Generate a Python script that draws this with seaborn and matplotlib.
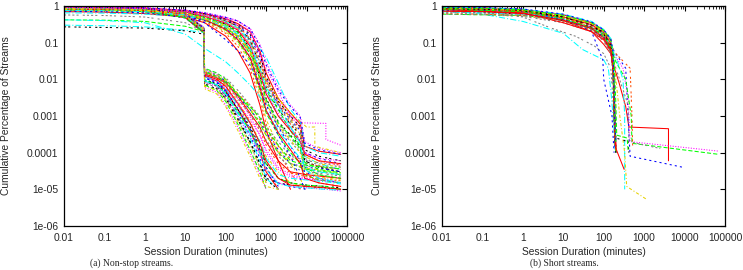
import numpy as np
import pandas as pd
import matplotlib
matplotlib.use("Agg")
import matplotlib.pyplot as plt
import seaborn as sns
from matplotlib.ticker import FixedLocator, FixedFormatter, LogLocator, NullFormatter

nan = np.nan

# ---- (a) non-stop streams: curves that fall off smoothly after ~300 min
upper_x = [0.01, 0.1, 1, 10, 30, 100, 200, 400, 700, 1000, 2000, 4000, 7000, 9000, 20000, 70000]
upper_curves = [
    [0.95, 0.93, 0.88, 0.75, 0.62, 0.45, 0.33, 0.2, 0.06, 0.015, 3e-3, 1.2e-3, 6e-4, 1.5e-4, 1.1e-4, 9e-5],
    [0.92, 0.9, 0.85, 0.72, 0.6, 0.42, 0.3, 0.15, 0.04, 0.01, 2e-3, 8e-4, 4e-4, 1e-4, 7e-5, 5e-5],
    [0.9, 0.88, 0.83, 0.7, 0.55, 0.38, 0.25, 0.1, 0.02, 5e-3, 1e-3, 5e-4, 2e-4, 8e-5, 5e-5, 3.5e-5],
    [0.88, 0.86, 0.8, 0.66, 0.5, 0.32, 0.2, 0.07, 0.012, 3e-3, 7e-4, 3e-4, 1.5e-4, 6e-5, 4e-5, 3e-5],
    [0.85, 0.84, 0.78, 0.62, 0.45, 0.26, 0.14, 0.05, 8e-3, 2e-3, 5e-4, 2e-4, 1e-4, 4e-5, 2.5e-5, 2e-5],
    [0.82, 0.8, 0.74, 0.6, 0.42, 0.22, 0.11, 0.035, 5e-3, 1.2e-3, 3e-4, 1e-4, 5e-5, 2.5e-5, 1.8e-5, 1.5e-5],
    [0.9, 0.88, 0.84, 0.74, 0.64, 0.48, 0.38, 0.25, 0.09, 0.03, 6e-3, 2e-3, 1e-3, 2e-4, 1.3e-4, 1e-4],
    [0.8, 0.78, 0.72, 0.58, 0.4, 0.2, 0.1, 0.03, 4e-3, 8e-4, 1.5e-4, 5e-5, 2e-5, 1e-5, nan, nan],
    [0.75, 0.74, 0.68, 0.55, 0.38, 0.18, 0.08, 0.02, 3e-3, 6e-4, 1e-4, 3e-5, 1e-5, nan, nan, nan],
    [0.7, 0.68, 0.62, 0.5, 0.35, 0.15, 0.06, 0.015, 2e-3, 4e-4, 6e-5, 1e-5, nan, nan, nan, nan],
    [0.85, 0.82, 0.75, 0.55, 0.35, 0.12, 0.06, 0.025, 6e-3, 2e-3, 5e-4, 1.5e-4, 6e-5, 3e-5, 2e-5, 1.5e-5],
    [0.65, 0.64, 0.6, 0.52, 0.45, 0.35, 0.25, 0.12, 0.07, 0.04, 8e-3, 1.5e-3, 7e-4, 1.5e-4, 1e-4, 8e-5],
    [0.93, 0.91, 0.86, 0.73, 0.6, 0.4, 0.28, 0.12, 0.025, 6e-3, 1.5e-3, 6e-4, 3e-4, 6e-5, 4e-5, 3e-5],
    [0.87, 0.85, 0.79, 0.64, 0.48, 0.3, 0.18, 0.06, 0.01, 2.5e-3, 6e-4, 2.5e-4, 1.2e-4, 5e-5, 3e-5, 2.5e-5],
    [0.78, 0.76, 0.7, 0.57, 0.42, 0.25, 0.15, 0.05, 0.015, 5e-3, 1.5e-3, 4e-4, 1.5e-4, 4e-5, 2.5e-5, 2e-5],
    [0.95, 0.94, 0.9, 0.78, 0.66, 0.5, 0.4, 0.22, 0.05, 0.01, 2.5e-3, 1e-3, 5e-4, 1e-4, 6e-5, 4.5e-5],
    [0.9, 0.89, 0.84, 0.7, 0.56, 0.36, 0.24, 0.09, 0.03, 0.01, 3e-3, 8e-4, 3e-4, 8e-5, 5e-5, 4e-5],
    [0.83, 0.81, 0.76, 0.63, 0.47, 0.28, 0.16, 0.06, 0.02, 7e-3, 2e-3, 6e-4, 2e-4, 3e-5, 1.5e-5, 1.2e-5],
    [0.88, 0.87, 0.82, 0.68, 0.52, 0.34, 0.22, 0.08, 0.015, 4e-3, 1e-3, 4e-4, 2e-4, 9e-5, 6e-5, 5e-5],
    [0.72, 0.7, 0.65, 0.53, 0.4, 0.24, 0.13, 0.04, 7e-3, 1.5e-3, 3e-4, 8e-5, 2e-5, 1e-5, nan, nan],
    [0.42, 0.4, 0.35, 0.17, 0.07, 0.03, 0.015, 7e-3, 3.4e-3, 1.5e-3, 4e-4, 1.5e-4, 7e-5, 4e-5, 3e-5, 2.5e-5],
    [0.94, 0.92, 0.87, 0.74, 0.61, 0.44, 0.32, 0.17, 0.05, 0.012, 2.5e-3, 1e-3, 5e-4, 1.2e-4, 8e-5, 6e-5],
    [0.91, 0.9, 0.85, 0.71, 0.57, 0.39, 0.27, 0.11, 0.03, 8e-3, 2e-3, 7e-4, 3.5e-4, 7e-5, 4.5e-5, 3.5e-5],
    [0.86, 0.85, 0.8, 0.65, 0.49, 0.31, 0.19, 0.065, 0.011, 2.8e-3, 6.5e-4, 2.8e-4, 1.3e-4, 5.5e-5, 3.5e-5, 2.8e-5],
    [0.89, 0.88, 0.83, 0.69, 0.53, 0.35, 0.23, 0.09, 0.018, 4.5e-3, 1.2e-3, 4.5e-4, 2.2e-4, 1e-4, 7e-5, 6e-5],
    [0.84, 0.83, 0.77, 0.63, 0.46, 0.27, 0.15, 0.055, 9e-3, 2.2e-3, 5.5e-4, 2.2e-4, 1e-4, 3.5e-5, 2.2e-5, 1.8e-5],
    [0.92, 0.91, 0.86, 0.72, 0.58, 0.41, 0.29, 0.13, 0.035, 9e-3, 2.2e-3, 9e-4, 4.5e-4, 9e-5, 6e-5, 4.5e-5],
    [0.8, 0.79, 0.73, 0.6, 0.43, 0.23, 0.12, 0.04, 6e-3, 1.4e-3, 3.5e-4, 1.2e-4, 5e-5, 2e-5, 1.5e-5, 1.2e-5],
    [0.95, 0.94, 0.89, 0.77, 0.65, 0.49, 0.39, 0.24, 0.08, 0.025, 5e-3, 1.8e-3, 9e-4, 1.8e-4, 1.2e-4, 9e-5],
    [0.76, 0.75, 0.7, 0.58, 0.44, 0.28, 0.17, 0.07, 0.02, 6e-3, 1.8e-3, 5e-4, 1.8e-4, 3.5e-5, 2e-5, 1.5e-5],
]

# ---- (a) curves with the sharp drop at 30 min
lower_x = [0.01, 0.1, 1, 10, 29, 30, 60, 100, 200, 400, 700, 1000, 2000, 4000, 10000, 30000, 70000]
lower_curves = [
    [0.92, 0.9, 0.85, 0.6, 0.25, 0.02, 0.015, 0.01, 4e-3, 1.5e-3, 6e-4, 3e-4, 1e-4, 5e-5, 3.5e-5, 3e-5, 2.5e-5],
    [0.88, 0.86, 0.8, 0.55, 0.22, 0.018, 0.013, 8e-3, 3e-3, 1e-3, 3e-4, 1.2e-4, 4e-5, 2.5e-5, 2e-5, 1.7e-5, 1.5e-5],
    [0.85, 0.83, 0.77, 0.5, 0.2, 0.015, 0.011, 7e-3, 2.5e-3, 7e-4, 2e-4, 8e-5, 3e-5, 1.5e-5, 1.2e-5, 1.1e-5, 1e-5],
    [0.9, 0.88, 0.82, 0.58, 0.24, 0.013, 0.01, 6e-3, 2e-3, 5e-4, 1.2e-4, 4e-5, 1e-5, nan, nan, nan, nan],
    [0.8, 0.78, 0.72, 0.48, 0.18, 0.012, 9e-3, 5e-3, 1.5e-3, 4e-4, 1e-4, 3e-5, 1e-5, nan, nan, nan, nan],
    [0.95, 0.93, 0.88, 0.62, 0.26, 0.011, 8e-3, 4.5e-3, 1.2e-3, 3e-4, 7e-5, 2.5e-5, 1.5e-5, 1.2e-5, 1e-5, nan, nan],
    [0.3, 0.29, 0.27, 0.22, 0.19, 0.01, 7e-3, 4e-3, 1e-3, 2.5e-4, 6e-5, 2e-5, 1e-5, nan, nan, nan, nan],
    [0.27, 0.26, 0.25, 0.21, 0.17, 9e-3, 6.5e-3, 3.5e-3, 9e-4, 2e-4, 5e-5, 2e-5, 1.5e-5, 1.3e-5, 1.2e-5, 1.1e-5, 1e-5],
    [0.57, 0.55, 0.5, 0.35, 0.2, 8e-3, 6e-3, 3e-3, 8e-4, 1.8e-4, 4e-5, 1.5e-5, nan, nan, nan, nan, nan],
    [0.83, 0.81, 0.75, 0.52, 0.21, 7e-3, 5e-3, 2.5e-3, 6e-4, 1.2e-4, 3e-5, 1e-5, nan, nan, nan, nan, nan],
    [0.87, 0.85, 0.79, 0.54, 0.22, 6e-3, 4.5e-3, 2e-3, 5e-4, 1e-4, 2.5e-5, 1e-5, nan, nan, nan, nan, nan],
    [0.9, 0.88, 0.83, 0.57, 0.23, 5.5e-3, 4e-3, 1.8e-3, 4e-4, 8e-5, 2e-5, 1.2e-5, 1e-5, nan, nan, nan, nan],
    [0.93, 0.91, 0.86, 0.6, 0.25, 0.016, 0.012, 9e-3, 4e-3, 2e-3, 8e-4, 4e-4, 1.5e-4, 7e-5, 5e-5, 4e-5, 3.5e-5],
    [0.86, 0.84, 0.78, 0.53, 0.2, 0.014, 0.011, 8e-3, 3.5e-3, 1.2e-3, 5e-4, 2e-4, 6e-5, 3e-5, 2.5e-5, 2.2e-5, 2e-5],
    [0.78, 0.76, 0.7, 0.47, 0.19, 0.017, 0.013, 9e-3, 3.5e-3, 1.5e-3, 7e-4, 3.5e-4, 1.2e-4, 5e-5, 4e-5, 3.5e-5, 3e-5],
    [0.91, 0.89, 0.84, 0.59, 0.24, 0.012, 9e-3, 5.5e-3, 2e-3, 6e-4, 2e-4, 7e-5, 2.5e-5, 2e-5, 1.8e-5, 1.6e-5, 1.4e-5],
    [0.84, 0.82, 0.76, 0.51, 0.2, 0.01, 7.5e-3, 4.5e-3, 1.5e-3, 5e-4, 1.5e-4, 5e-5, 2e-5, 1.5e-5, 1.3e-5, 1.2e-5, 1.1e-5],
    [0.94, 0.92, 0.87, 0.61, 0.25, 0.019, 0.014, 0.011, 5e-3, 2e-3, 1e-3, 5e-4, 2e-4, 8e-5, 6e-5, 5e-5, 4e-5],
    [0.42, 0.41, 0.38, 0.28, 0.2, 9.5e-3, 7e-3, 4e-3, 1.3e-3, 4e-4, 1.3e-4, 5e-5, 2e-5, 1.5e-5, 1.3e-5, 1.2e-5, 1e-5],
    [0.89, 0.87, 0.81, 0.56, 0.23, 8.5e-3, 6.5e-3, 3.5e-3, 1e-3, 3e-4, 9e-5, 3.5e-5, 1.5e-5, 1.2e-5, 1.1e-5, 1e-5, 9e-6],
    [0.9, 0.88, 0.83, 0.58, 0.24, 0.017, 0.013, 9.5e-3, 4e-3, 1.6e-3, 6.5e-4, 3e-4, 1.1e-4, 5e-5, 3.8e-5, 3.2e-5, 2.8e-5],
    [0.87, 0.85, 0.79, 0.55, 0.22, 0.015, 0.012, 8.5e-3, 3.2e-3, 1.1e-3, 4e-4, 1.6e-4, 5e-5, 2.8e-5, 2.2e-5, 1.9e-5, 1.7e-5],
    [0.82, 0.8, 0.74, 0.5, 0.2, 0.013, 0.01, 6.5e-3, 2.2e-3, 6.5e-4, 1.8e-4, 6e-5, 2e-5, 1.3e-5, 1.2e-5, 1.1e-5, 1e-5],
    [0.93, 0.91, 0.86, 0.6, 0.25, 0.011, 8.5e-3, 5e-3, 1.6e-3, 4.5e-4, 1.2e-4, 4e-5, 1.2e-5, nan, nan, nan, nan],
    [0.85, 0.83, 0.77, 0.52, 0.21, 9e-3, 7e-3, 4e-3, 1.2e-3, 3.5e-4, 1e-4, 3.5e-5, 1.4e-5, 1.2e-5, 1.1e-5, 1e-5, 9.5e-6],
    [0.91, 0.89, 0.84, 0.59, 0.24, 7.5e-3, 5.5e-3, 3e-3, 8e-4, 2e-4, 5e-5, 1.8e-5, 1e-5, nan, nan, nan, nan],
    [0.88, 0.86, 0.8, 0.56, 0.23, 0.014, 0.011, 7.5e-3, 3e-3, 1.1e-3, 4.5e-4, 2.2e-4, 8e-5, 4e-5, 3e-5, 2.6e-5, 2.3e-5],
    [0.79, 0.77, 0.71, 0.48, 0.19, 0.016, 0.012, 8.5e-3, 3.8e-3, 1.8e-3, 9e-4, 4.5e-4, 1.6e-4, 6e-5, 4.5e-5, 4e-5, 3.6e-5],
    [0.94, 0.92, 0.87, 0.61, 0.26, 0.012, 9e-3, 5.8e-3, 2.2e-3, 8e-4, 3e-4, 1e-4, 3.5e-5, 2.2e-5, 1.9e-5, 1.7e-5, 1.5e-5],
    [0.86, 0.84, 0.78, 0.54, 0.22, 6.5e-3, 5e-3, 2.8e-3, 7e-4, 1.6e-4, 4e-5, 1.5e-5, nan, nan, nan, nan, nan],
]

# ---- (a) a few odd step-shaped curves
odd_left = [
    ([0.01, 1, 10, 100, 400, 1000, 4000, 7800, 30000, 30000, 70000],
     [0.9, 0.85, 0.72, 0.45, 0.2, 0.02, 1e-3, 6.5e-4, 6.3e-4, 2.3e-4, 1.6e-4]),
    ([0.01, 1, 10, 100, 400, 1000, 4000, 10000, 16000, 16000, 70000],
     [0.8, 0.75, 0.62, 0.3, 0.06, 8e-3, 1.2e-3, 5e-4, 5e-4, 1.5e-4, 1e-4]),
]
odd_left_styles = [3, 5]

# ---- (b) short streams: main bundle, all gone by ~200 min
short_x = [0.01, 0.1, 1, 10, 50, 100, 150, 170, 180, 190, 200]
short_curves = [
    [0.92, 0.9, 0.8, 0.57, 0.35, 0.22, 0.12, 0.05, 5e-3, 5e-4, 1.5e-4],
    [0.88, 0.86, 0.76, 0.52, 0.32, 0.2, 0.1, 0.04, 3e-3, 3e-4, 1.2e-4],
    [0.85, 0.83, 0.72, 0.48, 0.3, 0.18, 0.09, 0.03, 2e-3, 2e-4, 1e-4],
    [0.82, 0.8, 0.7, 0.45, 0.27, 0.16, 0.08, 0.025, 1.5e-3, 1.5e-4, 1e-4],
    [0.78, 0.76, 0.66, 0.42, 0.25, 0.14, 0.07, 0.02, 1e-3, 1.2e-4, nan],
    [0.9, 0.88, 0.78, 0.55, 0.34, 0.21, 0.11, 0.045, 4e-3, 4e-4, 2e-4],
    [0.7, 0.68, 0.6, 0.4, 0.24, 0.13, 0.06, 0.02, 2e-3, 3e-4, 1.3e-4],
    [0.62, 0.6, 0.55, 0.38, 0.22, 0.12, 0.055, 0.018, 1.2e-3, 2e-4, 1e-4],
    [0.6, 0.58, 0.52, 0.35, 0.2, 0.11, 0.05, 0.015, 8e-4, 1.5e-4, nan],
    [0.86, 0.84, 0.74, 0.5, 0.31, 0.19, 0.1, 0.035, 2.5e-3, 2.5e-4, 1.1e-4],
    [0.8, 0.78, 0.68, 0.44, 0.26, 0.15, 0.075, 0.022, 1.5e-3, 1.8e-4, 1e-4],
    [0.75, 0.72, 0.63, 0.42, 0.25, 0.14, 0.065, 0.02, 1e-3, 1.3e-4, nan],
    [0.9, 0.89, 0.81, 0.58, 0.36, 0.21, 0.11, 0.045, 4e-3, 4e-4, 1.6e-4],
    [0.91, 0.9, 0.82, 0.6, 0.38, 0.23, 0.13, 0.06, 6e-3, 6e-4, 2e-4],
    [0.87, 0.85, 0.77, 0.54, 0.33, 0.2, 0.105, 0.04, 3.5e-3, 3.5e-4, 1.4e-4],
    [0.84, 0.82, 0.74, 0.5, 0.3, 0.17, 0.085, 0.03, 2e-3, 2e-4, 1e-4],
    [0.83, 0.81, 0.71, 0.47, 0.28, 0.165, 0.08, 0.028, 1.8e-3, 1.8e-4, 1.1e-4],
    [0.66, 0.64, 0.57, 0.39, 0.23, 0.125, 0.058, 0.019, 1.4e-3, 2.2e-4, 1.2e-4],
    [0.72, 0.7, 0.62, 0.41, 0.245, 0.135, 0.064, 0.021, 1.6e-3, 2.6e-4, 1.3e-4],
    [0.89, 0.87, 0.79, 0.56, 0.35, 0.215, 0.115, 0.048, 4.5e-3, 4.5e-4, 1.8e-4],
    [0.93, 0.91, 0.83, 0.6, 0.37, 0.225, 0.125, 0.055, 5.5e-3, 5.5e-4, 2e-4],
]

# ---- (b) stragglers and long tails
odd_right = [
    ([0.01, 1, 10, 50, 100, 150, 170, 240, 350, 420, 4000, 4000],
     [0.85, 0.7, 0.4, 0.2, 0.09, 0.05, 0.027, 8e-3, 1.8e-3, 5e-4, 4.5e-4, 6e-5]),
    ([0.01, 0.1, 1, 10, 30, 100, 130, 150, 170, 190],
     [0.75, 0.6, 0.38, 0.18, 0.065, 0.034, 0.02, 5e-3, 1e-3, 2e-4]),
    ([0.01, 0.1, 1, 5, 20, 60, 100, 150, 180],
     [0.8, 0.7, 0.5, 0.25, 0.15, 0.08, 0.05, 0.02, 1e-3]),
    ([0.01, 1, 10, 50, 95, 100, 160, 180],
     [0.85, 0.7, 0.45, 0.2, 0.034, 0.01, 1e-3, 1e-4]),
    ([0.01, 1, 10, 100, 200, 350, 400, 450, 9000],
     [0.8, 0.7, 0.45, 0.15, 0.05, 0.02, 1e-3, 8e-5, 4e-5]),
    ([0.01, 1, 10, 100, 200, 300, 400, 450, 70000],
     [0.85, 0.75, 0.5, 0.2, 0.04, 0.02, 3e-3, 2e-4, 1.1e-4]),
    ([0.01, 1, 10, 100, 200, 350, 480, 500, 70000],
     [0.6, 0.55, 0.42, 0.2, 0.03, 0.01, 1e-3, 1.8e-4, 9e-5]),
    ([0.01, 1, 10, 100, 200, 450, 500, 520, 600],
     [0.8, 0.7, 0.5, 0.2, 0.05, 0.02, 1e-3, 1.5e-4, 1.3e-4]),
    ([0.01, 1, 10, 100, 200, 300, 330, 330],
     [0.7, 0.6, 0.45, 0.18, 0.04, 0.01, 1e-3, 1e-5]),
    ([0.01, 1, 10, 100, 180, 250, 330, 370, 1100],
     [0.9, 0.75, 0.5, 0.2, 0.03, 1e-3, 1e-4, 1.2e-5, 5.5e-6]),
    ([0.01, 1, 10, 100, 200, 400, 420, 2500],
     [0.75, 0.65, 0.45, 0.18, 0.02, 2e-3, 2e-4, 1.3e-4]),
    ([0.01, 1, 10, 50, 100, 150, 180, 190, 200, 320],
     [0.8, 0.65, 0.35, 0.2, 0.12, 0.06, 0.01, 1.3e-3, 1.3e-4, 3.5e-5]),
    ([0.01, 1, 10, 100, 170, 190, 200, 400, 420],
     [0.88, 0.78, 0.52, 0.2, 0.05, 1e-3, 2.5e-4, 2e-4, 1e-4]),
    ([0.01, 1, 10, 100, 180, 200, 210, 380, 400],
     [0.82, 0.72, 0.48, 0.17, 0.04, 2e-3, 3e-4, 2.5e-4, 1.2e-4]),
]
odd_right_styles = [0, 4, 8, 2, 2, 3, 1, 7, 4, 5, 8, 0, 6, 1]

x_ticks = [0.01, 0.1, 1, 10, 100, 1000, 10000, 100000]
x_tick_labels = ["0.01", "0.1", "1", "10", "100", "1000", "10000", "100000"]
y_ticks = [1e-6, 1e-5, 1e-4, 1e-3, 1e-2, 1e-1, 1]
y_tick_labels = ["1e-06", "1e-05", "0.0001", "0.001", "0.01", "0.1", "1"]

# gnuplot postscript line types
gp_colors = ["#ff0000", "#00ff00", "#0000ff", "#ff00ff", "#00ffff",
             "#e6d200", "#000000", "#ff4d00", "#808080"]
gp_dashes = ["", (4, 2), (2, 3), (1, 1.5), (6, 2, 1, 2), (3, 2, 1, 2),
             (2, 2, 2, 4), (2, 2, 2, 2, 2, 4), (2, 2, 2, 2, 2, 2, 2, 4)]

FS = 7.4


def to_frame(groups):
    rows = []
    for k, (xs, ys, _) in enumerate(groups):
        for x, y in zip(xs, ys):
            if not np.isnan(y):
                rows.append((x, y, f"c{k:03d}"))
    return pd.DataFrame(rows, columns=["minutes", "share", "curve"])


def interleave(a, b):
    out = []
    for i in range(max(len(a), len(b))):
        if i < len(a):
            out.append(a[i])
        if i < len(b):
            out.append(b[i])
    return out


def draw_panel(ax, groups):
    df = to_frame(groups)
    ids = [f"c{k:03d}" for k in range(len(groups))]
    pal = {c: gp_colors[g[2] % 9] for c, g in zip(ids, groups)}
    dsh = {c: gp_dashes[g[2] % 9] for c, g in zip(ids, groups)}
    ax.set_xscale("log")
    ax.set_yscale("log")
    sns.lineplot(data=df, x="minutes", y="share", hue="curve", style="curve",
                 hue_order=ids, style_order=ids, palette=pal, dashes=dsh,
                 sort=False, estimator=None, legend=False, linewidth=0.75, ax=ax)
    ax.set_xlim(0.01, 1e5)
    ax.set_ylim(1e-6, 1)
    ax.xaxis.set_major_locator(FixedLocator(x_ticks))
    ax.xaxis.set_major_formatter(FixedFormatter(x_tick_labels))
    ax.xaxis.set_minor_locator(LogLocator(base=10, subs=(2, 3, 4, 5, 6, 7, 8, 9), numticks=20))
    ax.xaxis.set_minor_formatter(NullFormatter())
    ax.yaxis.set_major_locator(FixedLocator(y_ticks))
    ax.yaxis.set_major_formatter(FixedFormatter(y_tick_labels))
    ax.yaxis.set_minor_locator(FixedLocator([]))
    ax.tick_params(which="both", direction="in", top=True, right=True, labelsize=FS, color="black")
    ax.tick_params(which="major", length=3.5, width=0.8)
    ax.tick_params(which="minor", length=1.8, width=0.6)
    ax.tick_params(axis="x", pad=5)
    ax.tick_params(axis="y", pad=4)
    ax.set_xlabel("")
    ax.set_ylabel("")
    for s in ax.spines.values():
        s.set_visible(True)
        s.set_color("black")
        s.set_linewidth(0.9)


sns.set_style("white")
plt.rcParams["font.family"] = ["Liberation Sans", "DejaVu Sans"]

W, H = 743, 270
fig = plt.figure(figsize=(W / 100, H / 100), dpi=100)
ax_a = fig.add_axes([64 / W, 44 / H, 283 / W, 220 / H])
ax_b = fig.add_axes([442 / W, 44 / H, 283 / W, 220 / H])

ua = [(upper_x, c) for c in upper_curves]
lb = [(lower_x, c) for c in lower_curves]
left_groups = [(xs, ys, i) for i, (xs, ys) in enumerate(interleave(ua, lb))]
left_groups += [(xs, ys, s) for (xs, ys), s in zip(odd_left, odd_left_styles)]

right_groups = [(short_x, c, i) for i, c in enumerate(short_curves)]
right_groups = interleave(right_groups,
                          [(xs, ys, s) for (xs, ys), s in zip(odd_right, odd_right_styles)])

draw_panel(ax_a, left_groups)
draw_panel(ax_b, right_groups)

ylab = "Cumulative Percentage of Streams"
fig.text(6 / W, 1 - 116 / H, ylab, rotation=90, ha="center", va="center", fontsize=FS)
fig.text(377 / W, 1 - 116 / H, ylab, rotation=90, ha="center", va="center", fontsize=FS)
fig.text(205.5 / W, 1 - 252 / H, "Session Duration (minutes)", ha="center", va="center", fontsize=FS)
fig.text(583.5 / W, 1 - 252 / H, "Session Duration (minutes)", ha="center", va="center", fontsize=FS)
fig.text(132 / W, 1 - 263 / H, "(a) Non-stop streams.", ha="center", va="center",
         fontsize=6.9, family=["Liberation Serif", "DejaVu Serif"])
fig.text(564 / W, 1 - 263 / H, "(b) Short streams.", ha="center", va="center",
         fontsize=6.9, family=["Liberation Serif", "DejaVu Serif"])

fig.savefig("out.png", dpi=100)
